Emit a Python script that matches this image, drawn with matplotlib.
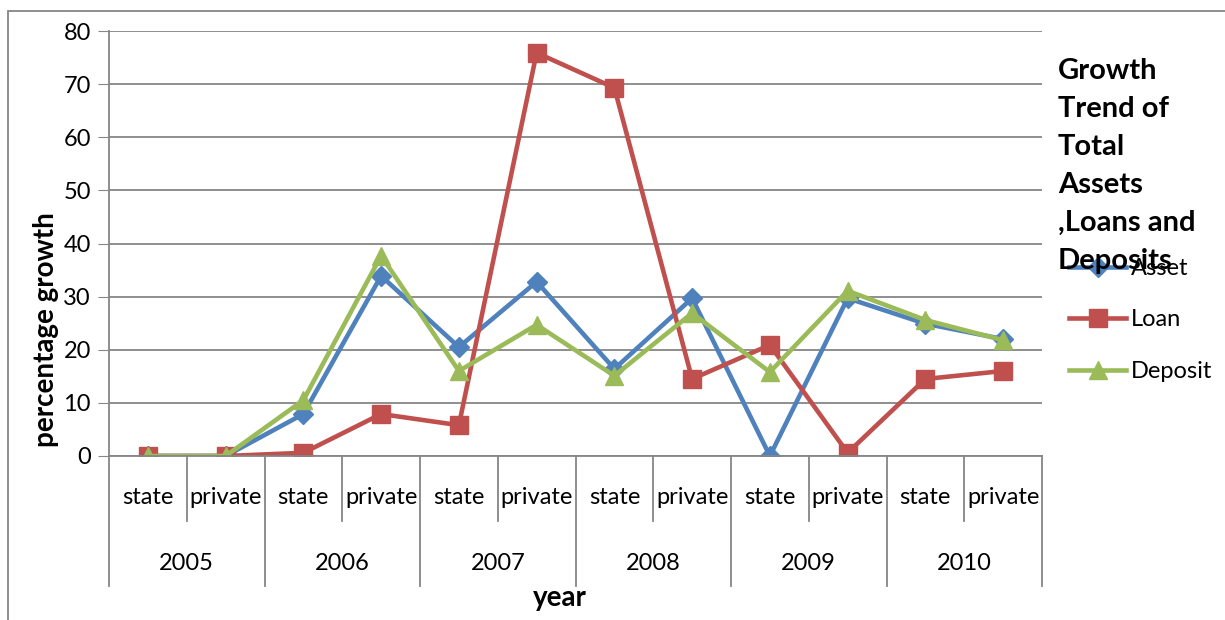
import matplotlib.pyplot as plt
from matplotlib.patches import Rectangle
import numpy as np

# categories
years = ['2005', '2006', '2007', '2008', '2009', '2010']
sectors = ['state', 'private']

# series values (percentage growth), order: year -> state, private
asset = [0, 0, 7.9, 33.9, 20.5, 32.8, 16.4, 29.7, 0, 29.7, 24.9, 22.0]
loan = [0, 0, 0.6, 7.9, 5.8, 75.9, 69.3, 14.5, 20.9, 0.6, 14.5, 16.0]
deposit = [0, 0, 10.5, 37.7, 16.0, 24.7, 15.1, 26.9, 15.8, 31.1, 25.6, 21.8]

yticks = [0, 10, 20, 30, 40, 50, 60, 70, 80]

plt.rcParams['font.family'] = ['Lato', 'DejaVu Sans']
grid_col = '#868686'

fig = plt.figure(figsize=(12.25, 6.2), dpi=100)
ax = fig.add_axes([109/1225, 1-456/620, (1042-109)/1225, (456-31)/620])

x = np.arange(len(asset))
ax.plot(x, asset, '-D', color='#4F81BD', lw=3.3, ms=10, label='Asset')
ax.plot(x, loan, '-s', color='#C0504D', lw=3.3, ms=12.5, label='Loan')
ax.plot(x, deposit, '-^', color='#9BBB59', lw=3.3, ms=13, label='Deposit')

ax.set_xlim(-0.5, len(asset) - 0.5)
ax.set_ylim(0, 80)
ax.set_yticks(yticks)
ax.yaxis.grid(True, color=grid_col, lw=1.3)
ax.set_axisbelow(True)
ax.tick_params(axis='y', length=8, color=grid_col, labelsize=17, pad=5)
ax.tick_params(axis='x', bottom=False, labelbottom=False)
for s in ['top', 'right']:
    ax.spines[s].set_visible(False)
for s in ['left', 'bottom']:
    ax.spines[s].set_color(grid_col)
    ax.spines[s].set_linewidth(1.3)

# multi-level category axis
trans = ax.get_xaxis_transform()
lo_small = -(521 - 456) / 425
lo_big = -(586 - 456) / 425
for i in range(len(asset) + 1):
    b = i - 0.5
    lo = lo_big if i % 2 == 0 else lo_small
    ax.plot([b, b], [0, lo], color=grid_col, lw=1.3, transform=trans, clip_on=False)
for i in range(len(asset)):
    ax.text(i, -(497 - 456) / 425, sectors[i % 2], transform=trans,
            ha='center', va='center', fontsize=17)
for j, yr in enumerate(years):
    ax.text(2 * j + 0.5, -(563 - 456) / 425, yr, transform=trans,
            ha='center', va='center', fontsize=17)

fig.text(560/1225, 1 - 598/620, 'year', ha='center', va='center',
         fontsize=20, fontweight='bold')
fig.text(46/1225, 1 - 330/620, 'percentage growth', ha='center', va='center',
         rotation=90, fontsize=20, fontweight='bold')

leg = ax.legend(loc='center left', bbox_to_anchor=(1060/1225, 1 - 320/620),
                bbox_transform=fig.transFigure, frameon=False, fontsize=17,
                handlelength=2.4, labelspacing=1.3, handletextpad=0.2,
                borderaxespad=0)

fig.text(1058/1225, 1 - 58/620,
         'Growth\nTrend of\nTotal\nAssets\n,Loans and\nDeposits',
         ha='left', va='top', fontsize=21, fontweight='bold', linespacing=1.57)

fig.patches.append(Rectangle((8/1225, -0.1), 1.2, 1 - 11/620 + 0.1,
                             transform=fig.transFigure, fill=False,
                             edgecolor=grid_col, lw=1.3))

fig.savefig('out.png', dpi=100)
